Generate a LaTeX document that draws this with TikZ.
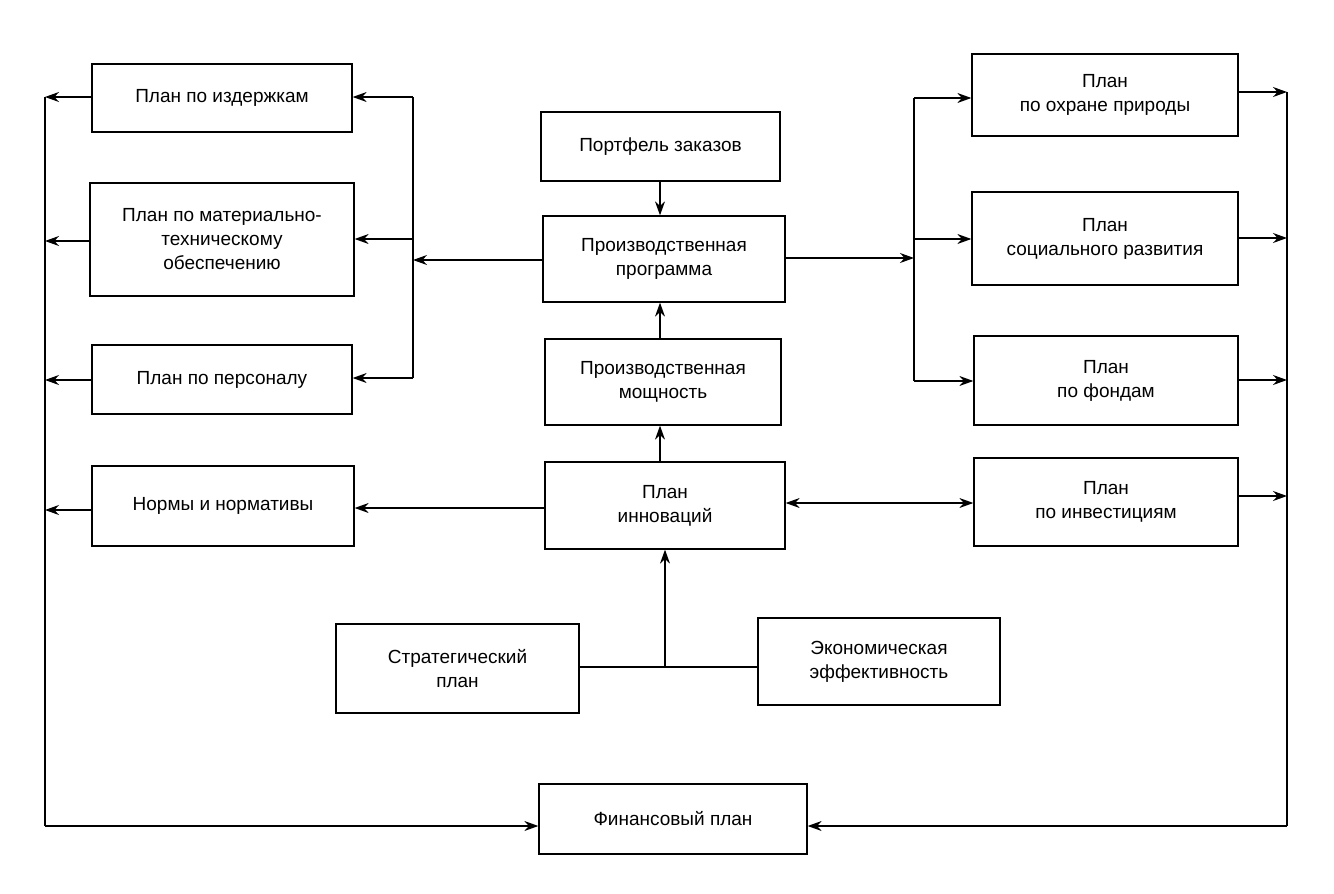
\documentclass[tikz,border=0pt]{standalone}
\usepackage{fontspec}
\setmainfont{Liberation Sans}
\usetikzlibrary{arrows.meta}
\begin{document}
\begin{tikzpicture}[x=1pt,y=-1pt,
  box/.style={draw,line width=1.3pt,align=center,font=\fontsize{19}{24}\selectfont},
  ar/.style={-{Stealth[length=14pt,width=10pt]},line width=1.2pt},
  ln/.style={line width=1.2pt}]
\useasboundingbox (0,0) rectangle (1334,894);
\newcommand\bx[6]{\node[box,minimum width=#4-#2,minimum height=#5-#3] (#1) at ({(#2+#4)/2},{(#3+#5)/2}) {#6};}
\bx{izd}{92}{64}{352}{132}{План по издержкам}
\bx{mto}{90}{183}{354}{296}{План по материально-\\техническому\\обеспечению}
\bx{pers}{92}{345}{352}{414}{План по персоналу}
\bx{norm}{92}{466}{354}{546}{Нормы и нормативы}
\bx{port}{541}{112}{780}{181}{Портфель заказов}
\bx{prog}{543}{216}{785}{302}{Производственная\\программа}
\bx{mosh}{545}{339}{781}{425}{Производственная\\мощность}
\bx{inn}{545}{462}{785}{549}{План\\инноваций}
\bx{str}{336}{624}{579}{713}{Стратегический\\план}
\bx{eko}{758}{618}{1000}{705}{Экономическая\\эффективность}
\bx{fin}{539}{784}{807}{854}{Финансовый план}
\bx{pri}{972}{54}{1238}{136}{План\\по охране природы}
\bx{soc}{972}{192}{1238}{285}{План\\социального развития}
\bx{fon}{974}{336}{1238}{425}{План\\по фондам}
\bx{inv}{974}{458}{1238}{546}{План\\по инвестициям}
% coordinates
\coordinate (L1) at (45,97); \coordinate (L2) at (45,241); \coordinate (L3) at (45,380); \coordinate (L4) at (45,510); \coordinate (Lb) at (45,826);
\coordinate (M1) at (413,97); \coordinate (M2) at (413,239); \coordinate (M3) at (413,378); \coordinate (Mp) at (413,260);
\coordinate (R1) at (914,98); \coordinate (R2) at (914,239); \coordinate (R3) at (914,381); \coordinate (Rp) at (914,258);
\coordinate (O1) at (1287,92); \coordinate (O2) at (1287,238); \coordinate (O3) at (1287,380); \coordinate (O4) at (1287,496); \coordinate (Ob) at (1287,826);
\coordinate (J) at (665,667);
% left outer
\draw[ln] (L1) -- (Lb);
\draw[ar] (izd.west|-L1) -- (L1);
\draw[ar] (mto.west|-L2) -- (L2);
\draw[ar] (pers.west|-L3) -- (L3);
\draw[ar] (norm.west|-L4) -- (L4);
\draw[ar] (Lb) -- (fin.west|-Lb);
% left middle
\draw[ln] (M1) -- (M3);
\draw[ar] (M1) -- (izd.east|-M1);
\draw[ar] (M2) -- (mto.east|-M2);
\draw[ar] (M3) -- (pers.east|-M3);
\draw[ar] (prog.west|-Mp) -- (Mp);
% right middle
\draw[ln] (R1) -- (R3);
\draw[ar] (prog.east|-Rp) -- (Rp);
\draw[ar] (R1) -- (pri.west|-R1);
\draw[ar] (R2) -- (soc.west|-R2);
\draw[ar] (R3) -- (fon.west|-R3);
% right outer
\draw[ln] (O1) -- (Ob);
\draw[ar] (pri.east|-O1) -- (O1);
\draw[ar] (soc.east|-O2) -- (O2);
\draw[ar] (fon.east|-O3) -- (O3);
\draw[ar] (inv.east|-O4) -- (O4);
\draw[ar] (Ob) -- (fin.east|-Ob);
% center
\draw[ar] (port.south-|660,0) -- (prog.north-|660,0);
\draw[ar] (mosh.north-|660,0) -- (prog.south-|660,0);
\draw[ar] (inn.north-|660,0) -- (mosh.south-|660,0);
\draw[ar] (inn.west|-0,508) -- (norm.east|-0,508);
\draw[{Stealth[length=14pt,width=10pt]}-{Stealth[length=14pt,width=10pt]},line width=1.2pt] (inn.east|-0,503) -- (inv.west|-0,503);
\draw[ln] (str.east|-J) -- (eko.west|-J);
\draw[ar] (J) -- (inn.south-|J);
\end{tikzpicture}
\end{document}
